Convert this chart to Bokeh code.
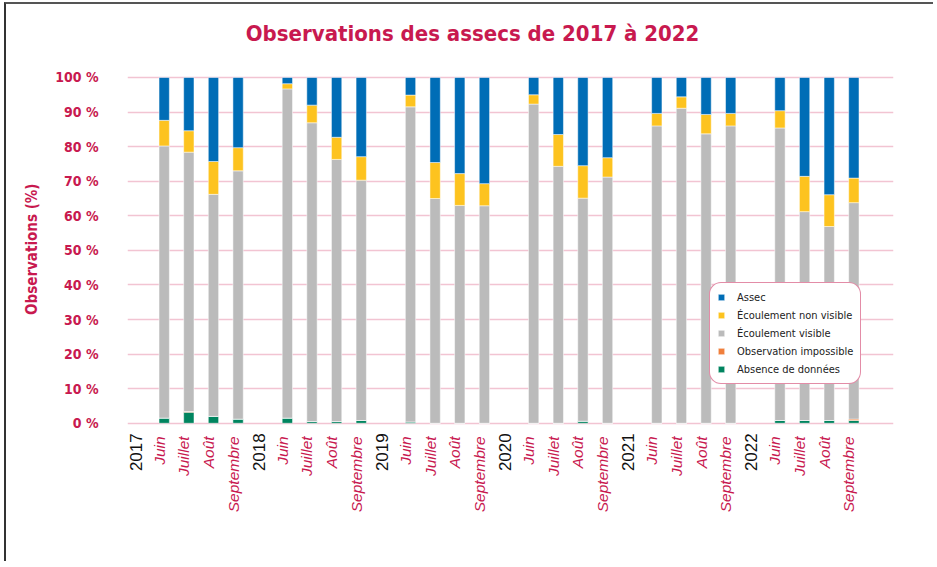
import math
from bokeh.plotting import figure
from bokeh.models import (ColumnDataSource, FixedTicker, Range1d,
                          Legend, LegendItem, Title)
from bokeh.core.properties import value
from bokeh.embed import file_html
from bokeh.resources import INLINE

# ---- data ----
title_text = "Observations des assecs de 2017 à 2022"
years = ["2017", "2018", "2019", "2020", "2021", "2022"]
months = ["Juin", "Juillet", "Août", "Septembre"]

absence =     [1.5, 3.2, 2.0, 1.2,  1.5, 0.5, 0.5, 0.8,  0.4, 0.0, 0.0, 0.0,
               0.0, 0.0, 0.6, 0.0,  0.0, 0.0, 0.0, 0.0,  0.8, 0.8, 0.8, 0.8]
impossible =  [0.0, 0.2, 0.0, 0.0,  0.0, 0.0, 0.0, 0.0,  0.0, 0.0, 0.0, 0.0,
               0.0, 0.0, 0.0, 0.0,  0.0, 0.0, 0.0, 0.0,  0.0, 0.0, 0.0, 0.4]
visible =     [78.7, 75.0, 64.2, 71.8,  95.2, 86.4, 75.8, 69.5,  91.1, 65.0, 63.0, 62.9,
               92.3, 74.3, 64.5, 71.2,  86.0, 91.1, 83.7, 86.0,  84.6, 60.4, 56.1, 62.6]
non_visible = [7.4, 6.2, 9.5, 6.7,  1.5, 5.1, 6.4, 6.8,  3.4, 10.4, 9.2, 6.4,
               2.7, 9.2, 9.4, 5.6,  3.6, 3.3, 5.6, 3.6,  5.0, 10.2, 9.2, 7.1]
assec =       [12.4, 15.4, 24.3, 20.3,  1.8, 8.0, 17.3, 22.9,  5.1, 24.6, 27.8, 30.7,
               5.0, 16.5, 25.5, 23.2,  10.4, 5.6, 10.7, 10.4,  9.6, 28.6, 33.9, 29.1]

y_ticks = [0, 10, 20, 30, 40, 50, 60, 70, 80, 90, 100]
y_tick_labels = ["0 %", "10 %", "20 %", "30 %", "40 %", "50 %", "60 %", "70 %",
                 "80 %", "90 %", "100 %"]

series_names = ["Absence de données", "Observation impossible", "Écoulement visible",
                "Écoulement non visible", "Assec"]
series_colors = ["#00845F", "#F07F3C", "#BBBBBB", "#FDC31F", "#006DB6"]

CRIMSON = "#C8194F"
COND = "DejaVu Sans Condensed, Liberation Sans Narrow, sans-serif"

# ---- positions (one slot per year label, then one per month) ----
bar_x = []
year_x, month_x, month_txt = [], [], []
for yi, yr in enumerate(years):
    year_x.append(yi * 5)
    for mi, m in enumerate(months):
        bar_x.append(yi * 5 + 1 + mi)
        month_x.append(yi * 5 + 1 + mi)
        month_txt.append(m)

src = ColumnDataSource(dict(x=bar_x, absence=absence, impossible=impossible,
                            visible=visible, non_visible=non_visible, assec=assec))
keys = ["absence", "impossible", "visible", "non_visible", "assec"]

# y range extends below 0 (category labels) and above 100 (title)
p = figure(width=929, height=559, output_backend="svg", toolbar_location=None,
           x_range=Range1d(-0.49, 30.61), y_range=Range1d(-33.9, 121.1),
           min_border_left=121, min_border_right=42, min_border_top=0,
           min_border_bottom=23)
p.title = None
p.outline_line_color = None
p.background_fill_color = "white"
p.border_fill_color = "white"

renderers = p.vbar_stack(keys, x="x", width=0.42, source=src, color=series_colors,
                         line_color="white", line_alpha=0.5, line_width=1)

# title (drawn inside the extended frame)
p.text(x=[13.52], y=[112.8], text=[title_text], text_align="center",
       text_baseline="alphabetic", text_color=CRIMSON, text_font=value(COND),
       text_font_size="22px", text_font_style="bold")

# axes
p.xaxis.visible = False
p.xgrid.visible = False
yax = p.yaxis[0]
yax.ticker = FixedTicker(ticks=y_ticks)
yax.major_label_overrides = {v: s for v, s in zip(y_ticks, y_tick_labels)}
yax.axis_line_color = None
yax.major_tick_line_color = None
yax.minor_tick_line_color = None
yax.major_tick_out = 0
yax.major_tick_in = 0
yax.major_label_standoff = 29
yax.major_label_text_color = CRIMSON
yax.major_label_text_font = COND
yax.major_label_text_font_size = "14px"
yax.major_label_text_font_style = "bold"
p.ygrid.grid_line_color = "#F2C4D2"
p.ygrid.grid_line_width = 1.5
p.ygrid.ticker = FixedTicker(ticks=y_ticks)

ytitle = Title(text="Observations (%)", align="right", offset=179, standoff=24,
               text_color=CRIMSON, text_font=COND, text_font_size="15px",
               text_font_style="bold")
p.add_layout(ytitle, "left")

# x labels (years black upright, months crimson italic)
p.text(x=year_x, y=[-2.9] * len(year_x), text=years, angle=math.pi / 2,
       text_align="right", text_baseline="middle", x_offset=-4,
       text_color="#111111", text_font=value("Liberation Sans"),
       text_font_size="17px")
p.text(x=month_x, y=[-3.8] * len(month_x), text=month_txt, angle=math.pi / 2,
       text_align="right", text_baseline="middle", x_offset=-5,
       text_color=CRIMSON, text_font=value("Liberation Sans"),
       text_font_size="15.5px", text_font_style="italic")

# legend
items = [LegendItem(label=n, renderers=[r]) for n, r in zip(series_names, renderers)]
items = items[::-1]
legend = Legend(items=items, location=(582, 156), orientation="vertical",
                border_line_color=CRIMSON, border_line_width=1.5,
                background_fill_color="white", background_fill_alpha=1,
                label_text_font=COND, label_text_font_size="11px",
                label_text_color="#222222", glyph_width=8, glyph_height=8,
                label_height=14, spacing=4, padding=7, margin=0,
                label_standoff=12)
if "border_radius" in Legend.properties():
    legend.border_radius = 12
p.add_layout(legend)

p.styles = {"border-top": "2px solid #555555", "border-left": "2px solid #333333",
            "margin-top": "2px", "margin-left": "4px"}

with open("out.html", "w") as f:
    f.write(file_html(p, INLINE))
